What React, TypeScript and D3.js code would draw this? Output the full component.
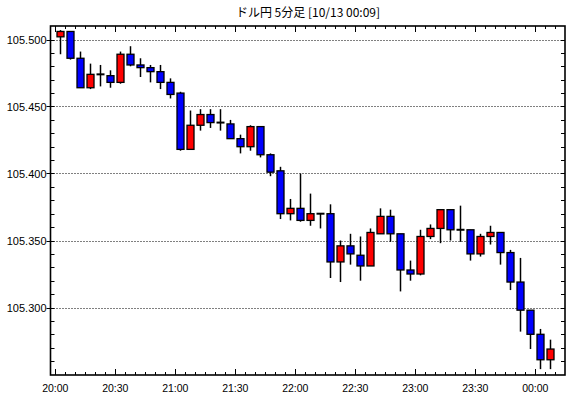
import React from "react";
import * as d3 from "d3";

const title = "ドル円 5分足 [10/13 00:09]";
const timeLabels = ["20:00", "20:30", "21:00", "21:30", "22:00", "22:30", "23:00", "23:30", "00:00"];
const opens = [105.502, 105.506, 105.486, 105.464, 105.474, 105.473, 105.468, 105.489, 105.481, 105.479,
  105.476, 105.468, 105.460, 105.418, 105.436, 105.444, 105.438, 105.437, 105.426, 105.420,
  105.435, 105.414, 105.402, 105.370, 105.374, 105.365, 105.370, 105.370, 105.334, 105.346,
  105.339, 105.331, 105.355, 105.368, 105.355, 105.328, 105.325, 105.353, 105.359, 105.373,
  105.358, 105.358, 105.340, 105.353, 105.356, 105.341, 105.319, 105.298, 105.280, 105.261];
const highs = [105.507, 105.506, 105.491, 105.482, 105.481, 105.477, 105.491, 105.495, 105.486, 105.481,
  105.481, 105.471, 105.461, 105.447, 105.448, 105.448, 105.448, 105.440, 105.429, 105.436,
  105.435, 105.415, 105.405, 105.381, 105.400, 105.385, 105.370, 105.377, 105.350, 105.355,
  105.353, 105.359, 105.374, 105.373, 105.355, 105.335, 105.358, 105.362, 105.373, 105.373,
  105.376, 105.358, 105.355, 105.361, 105.356, 105.343, 105.337, 105.298, 105.284, 105.276];
const lows = [105.489, 105.485, 105.464, 105.463, 105.465, 105.464, 105.467, 105.480, 105.472, 105.468,
  105.463, 105.456, 105.417, 105.418, 105.432, 105.434, 105.432, 105.426, 105.415, 105.417,
  105.412, 105.398, 105.366, 105.365, 105.364, 105.361, 105.359, 105.322, 105.319, 105.332,
  105.320, 105.331, 105.355, 105.349, 105.312, 105.320, 105.324, 105.351, 105.348, 105.350,
  105.349, 105.335, 105.338, 105.347, 105.332, 105.313, 105.282, 105.269, 105.254, 105.254];
const closes = [105.506, 105.486, 105.464, 105.474, 105.474, 105.468, 105.489, 105.481, 105.479, 105.476,
  105.468, 105.459, 105.418, 105.436, 105.444, 105.438, 105.438, 105.426, 105.420, 105.435,
  105.414, 105.401, 105.370, 105.374, 105.365, 105.370, 105.370, 105.334, 105.346, 105.340,
  105.331, 105.356, 105.368, 105.355, 105.328, 105.325, 105.353, 105.359, 105.373, 105.358,
  105.358, 105.340, 105.353, 105.356, 105.341, 105.319, 105.298, 105.280, 105.261, 105.269];

const W = 570, H = 398;
const L = 50.5, R = 565, T = 26, B = 375;

export default function App() {
  const n = opens.length;
  const x = d3.scaleLinear().domain([0, n - 1]).range([60.3, 550.3]);
  const y = d3.scaleLinear().domain([105.3, 105.5]).range([307.5, 39.5]);
  const fmt = d3.format(".3f");
  const minorY = d3.range(105.26, 105.5001, 0.01).map((v) => +v.toFixed(2));
  const majorY = [105.3, 105.35, 105.4, 105.45, 105.5];
  const slotTicks = d3.range(0, n + 1);
  const font = "'Liberation Sans', Arial, sans-serif";

  return (
    <svg width={W} height={H} style={{ position: "absolute", left: 0, top: 0, background: "#fff" }}>
      <rect x={0} y={0} width={W} height={H} fill="#fff" />
      <text x={308} y={17} textAnchor="middle" fontSize={12} fontFamily="'Noto Sans CJK JP', sans-serif" fill="#000">
        {title}
      </text>
      {/* grid */}
      {majorY.map((v) => (
        <line key={"g" + v} x1={L} x2={R} y1={Math.round(y(v)) + 0.5} y2={Math.round(y(v)) + 0.5}
          stroke="#000" strokeWidth={1} strokeDasharray="1,2" />
      ))}
      {/* y ticks */}
      {minorY.map((v) => (
        <g key={"t" + v}>
          <line x1={L} x2={L + 4} y1={Math.round(y(v)) + 0.5} y2={Math.round(y(v)) + 0.5} stroke="#000" />
          <line x1={R - 4} x2={R} y1={Math.round(y(v)) + 0.5} y2={Math.round(y(v)) + 0.5} stroke="#000" />
        </g>
      ))}
      {majorY.map((v) => (
        <g key={"m" + v}>
          <line x1={L - 4} x2={L} y1={Math.round(y(v)) + 0.5} y2={Math.round(y(v)) + 0.5} stroke="#000" />
          <text x={L - 4} y={y(v) + 4} textAnchor="end" fontSize={11} fontFamily={font} fill="#000">
            {fmt(v)}
          </text>
        </g>
      ))}
      {/* x ticks */}
      {slotTicks.map((i) => {
        const xx = Math.round(x(i) - 5) + 0.5;
        const major = i % 6 === 0;
        return (
          <g key={"x" + i}>
            <line x1={xx} x2={xx} y1={B} y2={B - (major ? 6 : 3)} stroke="#000" />
            <line x1={xx} x2={xx} y1={T} y2={T + (major ? 6 : 3)} stroke="#000" />
          </g>
        );
      })}
      {timeLabels.map((t, k) => (
        <text key={t} x={x(k * 6) - 5} y={392} textAnchor="middle" fontSize={10.5} fontFamily={font} fill="#000">
          {t}
        </text>
      ))}
      {/* candles */}
      {opens.map((o, i) => {
        const c = closes[i];
        const cx = Math.round(x(i)) + 0.5;
        const top = y(Math.max(o, c));
        const bot = y(Math.min(o, c));
        const doji = Math.abs(o - c) < 0.0005;
        return (
          <g key={"c" + i}>
            <line x1={cx} x2={cx} y1={y(highs[i])} y2={y(lows[i])} stroke="#000" strokeWidth={1.5} />
            {doji ? (
              <line x1={cx - 4} x2={cx + 4} y1={top} y2={top} stroke="#000" strokeWidth={2} />
            ) : (
              <rect x={cx - 3.5} y={top} width={7} height={Math.max(1, bot - top)}
                fill={c > o ? "#ff0000" : "#0000ff"} stroke="#000" strokeWidth={1.3} />
            )}
          </g>
        );
      })}
      {/* frame */}
      <rect x={L} y={T} width={R - L} height={B - T} fill="none" stroke="#000" strokeWidth={1.6} />
    </svg>
  );
}
